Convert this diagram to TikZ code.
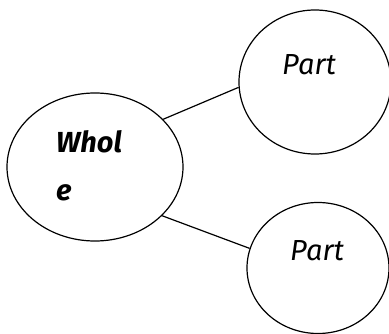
\documentclass[tikz,border=0pt]{standalone}
\usepackage{fontspec}
\setmainfont{Fira Sans}
\usetikzlibrary{shapes.geometric}
\begin{document}
\begin{tikzpicture}[x=1pt,y=-1pt,
  blob/.style={draw, line width=1.2pt, ellipse, inner sep=0pt},
  lbl/.style={anchor=base west, inner sep=0pt, font=\fontsize{29}{29}\selectfont\itshape},
  bl/.style={lbl, font=\fontsize{29}{29}\selectfont\bfseries\itshape},
  link/.style={line width=1.2pt}]
\useasboundingbox (0,0) rectangle (389,334);
\node[blob, minimum width=176pt, minimum height=148pt] (whole) at (95,167) {};
\node[blob, minimum width=152pt, minimum height=144pt] (p1) at (315,82) {};
\node[blob, minimum width=142pt, minimum height=131pt] (p2) at (318,268) {};
\node[bl] (w1) at (56,153) {Whol};
\node[bl] (w2) at (56,201) {e};
\node[lbl] (t1) at (282,75) {Part};
\node[lbl] (t2) at (290,261) {Part};
\draw[link] (whole.35) -- (p1.184);
\draw[link] (whole.-36) -- (p2.164);
\end{tikzpicture}
\end{document}
